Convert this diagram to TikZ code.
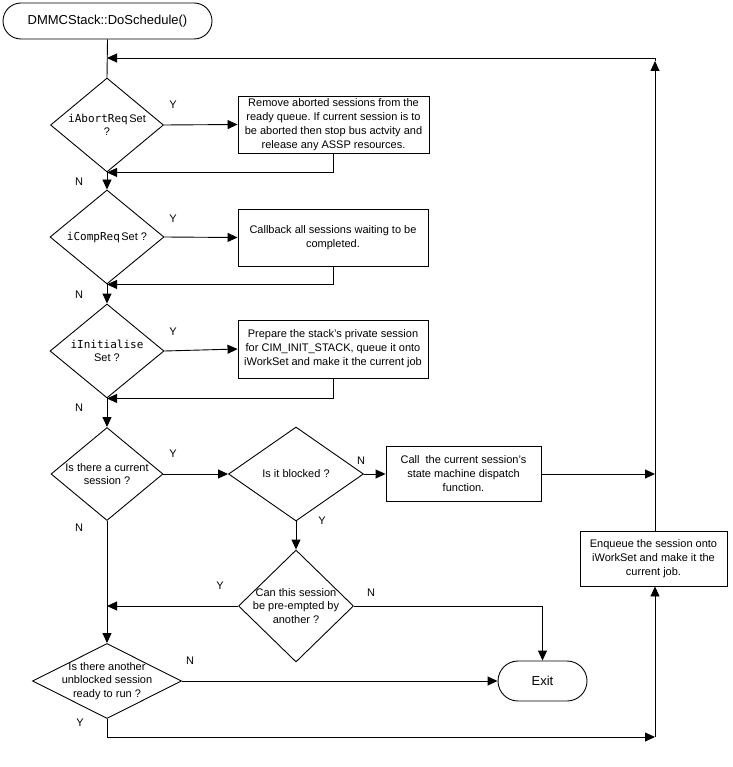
\documentclass[tikz,border=0pt]{standalone}
\usepackage{fontspec}
\setmainfont{Liberation Sans}
\newfontfamily\monof{DejaVu Sans Mono}
\usetikzlibrary{shapes.geometric,arrows.meta}
\frenchspacing
\begin{document}
\begin{tikzpicture}[x=1pt,y=-1pt,
  every path/.style={line width=0.9pt},
  box/.style={draw, line width=0.9pt, align=center, inner sep=0pt, font=\fontsize{11}{14}\selectfont},
  term/.style={draw, line width=0.9pt, inner sep=0pt, font=\fontsize{13}{15}\selectfont},
  dia/.style={draw, diamond, line width=0.9pt, inner sep=0pt},
  dtxt/.style={align=center, inner sep=0pt, font=\fontsize{11}{13.5}\selectfont},
  lbl/.style={inner sep=0pt, font=\fontsize{11}{13}\selectfont},
  arr/.style={-{Triangle[length=10pt,width=9pt]}, line width=0.9pt}]
\useasboundingbox (0,0) rectangle (732,767);

% terminals
\node[term, minimum width=209pt, minimum height=36pt, rounded corners=18pt] (start) at (107.5,21) {DMMCStack::DoSchedule()};
\node[term, minimum width=89pt, minimum height=40pt, rounded corners=20pt] (exit) at (542.5,681) {Exit};

% decisions
\node[dia, minimum width=113pt, minimum height=94pt, label={[dtxt]center:{{\monof iAbortReq}\kern1.5pt Set\\?}}] (d1) at (107,125) {};
\node[dia, minimum width=114pt, minimum height=94pt, label={[dtxt]center:{{\monof iCompReq}\kern1.5pt Set ?}}] (d2) at (107,237) {};
\node[dia, minimum width=114pt, minimum height=94pt, label={[dtxt]center:{{\monof iInitialise}\\Set ?}}] (d3) at (107,351) {};
\node[dia, minimum width=112pt, minimum height=93pt, label={[dtxt]center:{Is there a current\\session ?}}] (d4) at (107,474) {};
\node[dia, minimum width=135pt, minimum height=94pt, label={[dtxt]center:{Is it blocked ?}}] (d5) at (296,474) {};
\node[dia, minimum width=115pt, minimum height=112pt, label={[dtxt]center:{Can this session\\be pre-empted by\\another ?}}] (d6) at (296,606) {};
\node[dia, minimum width=149pt, minimum height=75pt, label={[dtxt]center:{Is there another\\unblocked session\\ready to run ?}}] (d7) at (107,681) {};

% process boxes
\node[box, minimum width=191pt, minimum height=57pt] (b1) at (333.5,124.5) {Remove aborted sessions from the\\ready queue. If current session is to\\be aborted then stop bus actvity and\\release any ASSP resources.};
\node[box, minimum width=190pt, minimum height=57pt] (b2) at (333,237.5) {Callback all sessions waiting to be\\completed.};
\node[box, minimum width=190pt, minimum height=58pt] (b3) at (333,349) {Prepare the stack's private session\\for CIM\_INIT\_STACK, queue it onto\\iWorkSet and make it the current job};
\node[box, minimum width=155pt, minimum height=55pt] (b4) at (463.5,474) {Call\ \ the current session's\\state machine dispatch\\function.};
\node[box, minimum width=147pt, minimum height=55pt] (b5) at (653.5,558.5) {Enqueue the session onto\\iWorkSet and make it the\\current job.};

% helper coordinates
\coordinate (topR) at (655,58);
\coordinate (topL) at (107,58);
\coordinate (topRa) at (655,61);
\coordinate (botL) at (107,737);
\coordinate (botR) at (655,737);
\coordinate (midR) at (655,474);

% connectors
\draw (start.south) -- (d1.north);
\draw[arr] (topR) -- (topL);
\draw[arr] (b5.north -| topR) -- (topRa);
\draw (topRa) -- (topR);

\draw[arr] (d1.east) -- (b1.west);
\draw[arr] (b1.south) |- (d1.south);
\draw[arr] (d1.south) -- (d2.north);
\draw[arr] (d2.east) -- (b2.west);
\draw[arr] (b2.south) |- (d2.south);
\draw[arr] (d2.south) -- (d3.north);
\draw[arr] (d3.east) -- (b3.west);
\draw[arr] (b3.south) |- (d3.south);
\draw[arr] (d3.south) -- (d4.north);

\draw[arr] (d4.east) -- (d5.west);
\draw[arr] (d5.east) -- (b4.west);
\draw[arr] (b4.east) -- (midR);
\draw[arr] (d5.south) -- (d6.north);
\draw[arr] (d6.west) -- (d6.west -| d4.south);
\draw[arr] (d6.east) -| (exit.north);
\draw[arr] (d4.south) -- (d7.north);
\draw[arr] (d7.east) -- (exit.west);
\draw[arr] (d7.south) -- (botL) -- (botR);
\draw[arr] (botR) -- (b5.south -| botR);

% Y / N labels
\node[lbl] (y1) at (173,105) {Y};
\node[lbl] (n1) at (79,182) {N};
\node[lbl] (y2) at (173,219) {Y};
\node[lbl] (n2) at (79,295) {N};
\node[lbl] (y3) at (173,332) {Y};
\node[lbl] (n3) at (79,408) {N};
\node[lbl] (y4) at (173,454) {Y};
\node[lbl] (n4) at (79,528) {N};
\node[lbl] (n5) at (361,461) {N};
\node[lbl] (y5) at (322,521) {Y};
\node[lbl] (y6) at (220,586) {Y};
\node[lbl] (n6) at (371,593) {N};
\node[lbl] (n7) at (190,661) {N};
\node[lbl] (y7) at (80,723) {Y};
\end{tikzpicture}
\end{document}
